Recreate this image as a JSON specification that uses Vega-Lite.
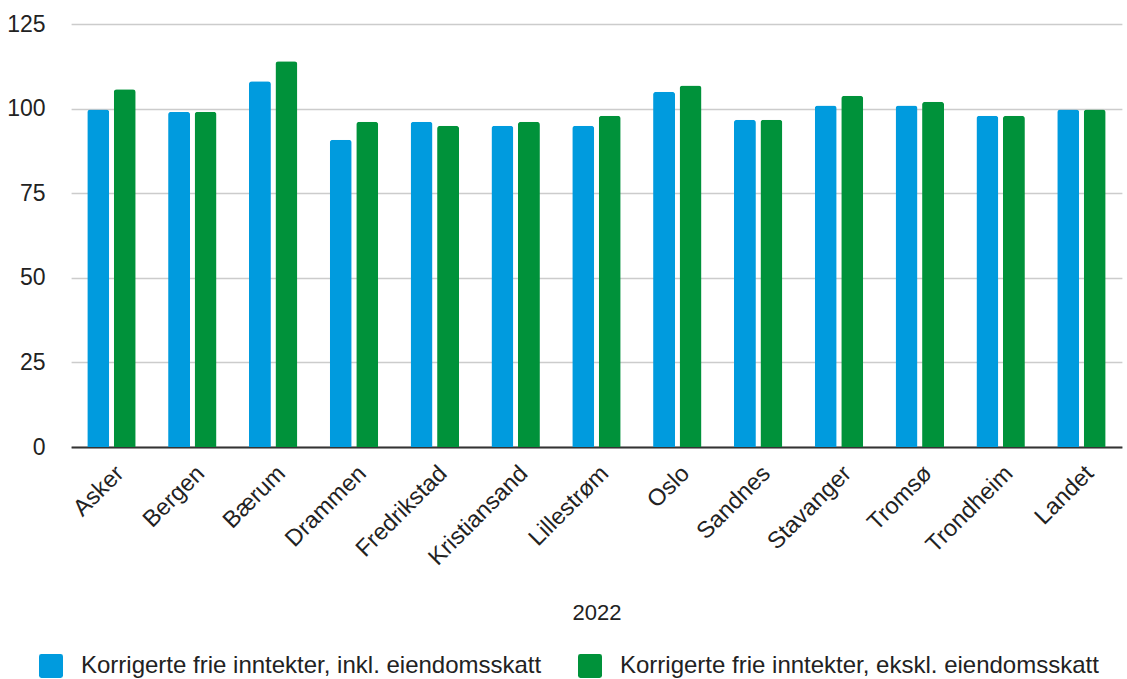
{
  "$schema": "https://vega.github.io/schema/vega-lite/v6.json",
  "autosize": {"type": "none"},
  "padding": {"left": 58, "top": 24, "right": 0, "bottom": 232},
  "width": 1069,
  "height": 423,
  "background": "white",
  "config": {
    "view": {"stroke": null},
    "font": "Liberation Sans",
    "axis": {"labelFont": "Liberation Sans", "titleFont": "Liberation Sans"},
    "legend": {"labelFont": "Liberation Sans"}
  },
  "data": {
    "values": [
      {"kommune": "Asker", "serie": "Korrigerte frie inntekter, inkl. eiendomsskatt", "verdi": 99.7},
      {"kommune": "Asker", "serie": "Korrigerte frie inntekter, ekskl. eiendomsskatt", "verdi": 105.7},
      {"kommune": "Bergen", "serie": "Korrigerte frie inntekter, inkl. eiendomsskatt", "verdi": 99.1},
      {"kommune": "Bergen", "serie": "Korrigerte frie inntekter, ekskl. eiendomsskatt", "verdi": 99.1},
      {"kommune": "Bærum", "serie": "Korrigerte frie inntekter, inkl. eiendomsskatt", "verdi": 108.1},
      {"kommune": "Bærum", "serie": "Korrigerte frie inntekter, ekskl. eiendomsskatt", "verdi": 114.0},
      {"kommune": "Drammen", "serie": "Korrigerte frie inntekter, inkl. eiendomsskatt", "verdi": 90.8},
      {"kommune": "Drammen", "serie": "Korrigerte frie inntekter, ekskl. eiendomsskatt", "verdi": 96.1},
      {"kommune": "Fredrikstad", "serie": "Korrigerte frie inntekter, inkl. eiendomsskatt", "verdi": 96.1},
      {"kommune": "Fredrikstad", "serie": "Korrigerte frie inntekter, ekskl. eiendomsskatt", "verdi": 94.9},
      {"kommune": "Kristiansand", "serie": "Korrigerte frie inntekter, inkl. eiendomsskatt", "verdi": 94.9},
      {"kommune": "Kristiansand", "serie": "Korrigerte frie inntekter, ekskl. eiendomsskatt", "verdi": 96.1},
      {"kommune": "Lillestrøm", "serie": "Korrigerte frie inntekter, inkl. eiendomsskatt", "verdi": 94.9},
      {"kommune": "Lillestrøm", "serie": "Korrigerte frie inntekter, ekskl. eiendomsskatt", "verdi": 97.9},
      {"kommune": "Oslo", "serie": "Korrigerte frie inntekter, inkl. eiendomsskatt", "verdi": 105.0},
      {"kommune": "Oslo", "serie": "Korrigerte frie inntekter, ekskl. eiendomsskatt", "verdi": 106.8},
      {"kommune": "Sandnes", "serie": "Korrigerte frie inntekter, inkl. eiendomsskatt", "verdi": 96.7},
      {"kommune": "Sandnes", "serie": "Korrigerte frie inntekter, ekskl. eiendomsskatt", "verdi": 96.7},
      {"kommune": "Stavanger", "serie": "Korrigerte frie inntekter, inkl. eiendomsskatt", "verdi": 100.9},
      {"kommune": "Stavanger", "serie": "Korrigerte frie inntekter, ekskl. eiendomsskatt", "verdi": 103.8},
      {"kommune": "Tromsø", "serie": "Korrigerte frie inntekter, inkl. eiendomsskatt", "verdi": 100.9},
      {"kommune": "Tromsø", "serie": "Korrigerte frie inntekter, ekskl. eiendomsskatt", "verdi": 102.0},
      {"kommune": "Trondheim", "serie": "Korrigerte frie inntekter, inkl. eiendomsskatt", "verdi": 97.9},
      {"kommune": "Trondheim", "serie": "Korrigerte frie inntekter, ekskl. eiendomsskatt", "verdi": 97.9},
      {"kommune": "Landet", "serie": "Korrigerte frie inntekter, inkl. eiendomsskatt", "verdi": 99.7},
      {"kommune": "Landet", "serie": "Korrigerte frie inntekter, ekskl. eiendomsskatt", "verdi": 99.7}
    ]
  },
  "mark": {"type": "bar", "cornerRadiusTopLeft": 3, "cornerRadiusTopRight": 3},
  "encoding": {
    "x": {
      "field": "kommune",
      "type": "nominal",
      "sort": null,
      "title": "2022",
      "scale": {"range": [13.1, 1063.9], "paddingInner": 0.4, "paddingOuter": 0.2},
      "axis": {
        "labelAngle": -45,
        "labelFontSize": 23.5,
        "labelColor": "#222222",
        "labelPadding": 14,
        "ticks": false,
        "domain": true,
        "domainColor": "#333333",
        "domainWidth": 2,
        "titleFontSize": 22,
        "titleFontWeight": "normal",
        "titleColor": "#222222",
        "titlePadding": 33
      }
    },
    "xOffset": {
      "field": "serie",
      "type": "nominal",
      "sort": null,
      "scale": {"paddingInner": 0.17, "paddingOuter": 0}
    },
    "y": {
      "field": "verdi",
      "type": "quantitative",
      "title": null,
      "scale": {"domain": [0, 125], "nice": false},
      "axis": {
        "values": [0, 25, 50, 75, 100, 125],
        "labelFontSize": 23,
        "labelColor": "#222222",
        "labelPadding": 13,
        "ticks": false,
        "domain": false,
        "gridColor": "#cccccc",
        "gridWidth": 1.5
      }
    },
    "color": {
      "field": "serie",
      "type": "nominal",
      "sort": null,
      "scale": {
        "domain": ["Korrigerte frie inntekter, inkl. eiendomsskatt", "Korrigerte frie inntekter, ekskl. eiendomsskatt"],
        "range": ["#009bde", "#00923a"]
      },
      "legend": {
        "title": null,
        "orient": "none",
        "legendX": -19,
        "legendY": 630,
        "direction": "horizontal",
        "labelFontSize": 24,
        "labelColor": "#222222",
        "labelLimit": 0,
        "symbolType": "M-0.8,-1H0.8Q1,-1 1,-0.8V0.8Q1,1 0.8,1H-0.8Q-1,1 -1,0.8V-0.8Q-1,-1 -0.8,-1Z",
        "symbolSize": 576,
        "symbolStrokeWidth": 0,
        "labelOffset": 18,
        "columnPadding": 36
      }
    }
  }
}
